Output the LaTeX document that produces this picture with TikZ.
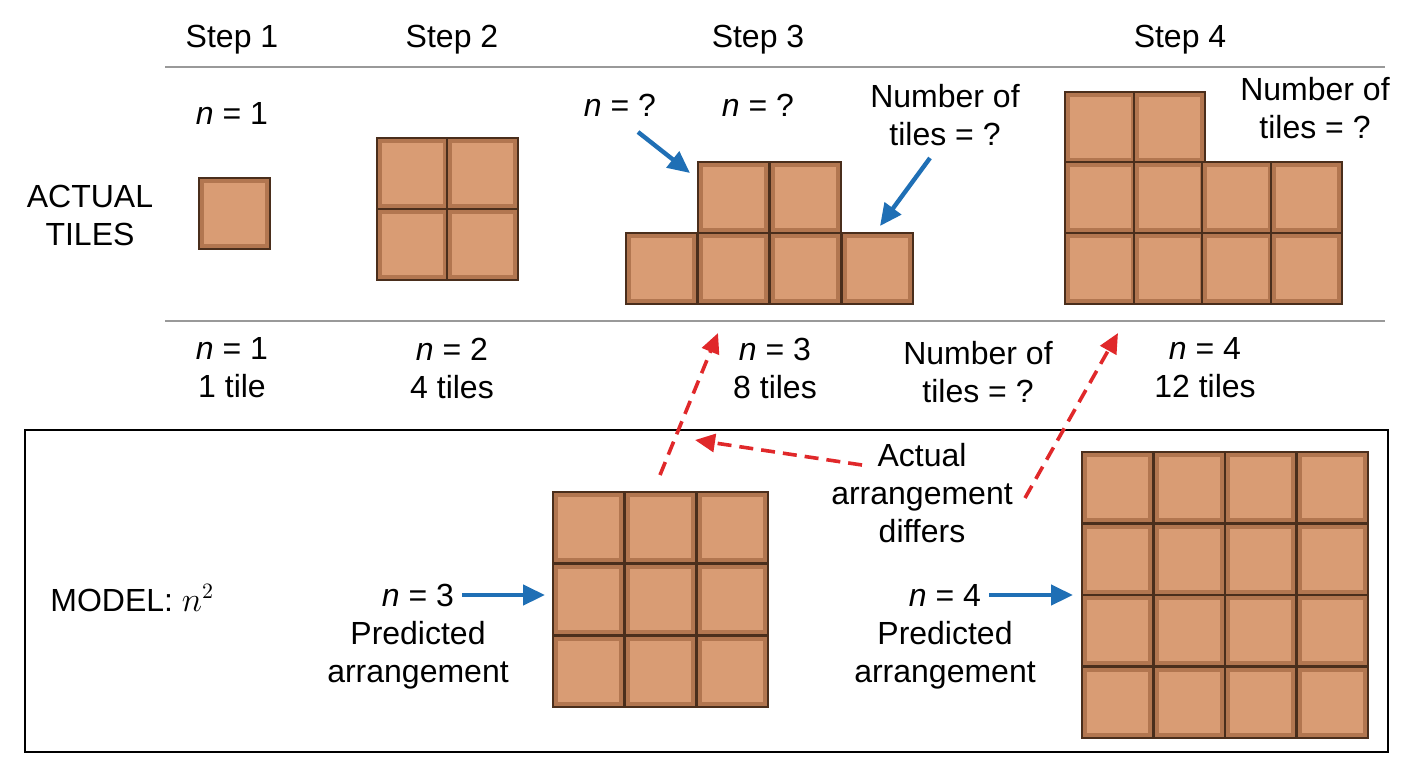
\documentclass[tikz,border=0pt]{standalone}
\usepackage{fontspec}
\setmainfont{Liberation Sans}
\usepackage{amsmath}
\usetikzlibrary{arrows.meta, positioning, calc}

\definecolor{tileedge}{HTML}{4A2E1C}
\definecolor{tiledark}{HTML}{B27650}
\definecolor{tilelight}{HTML}{D99C74}
\definecolor{bluearrow}{HTML}{1F6FB5}
\definecolor{redarrow}{HTML}{E0282A}

% one tile with its top left corner at (#1,#2)
\newcommand{\tile}[2]{%
  \fill[tiledark] (#1,#2) rectangle ++(71,71);
  \fill[tilelight] ($(#1,#2)+(5,5)$) rectangle ++(61,61);
  \draw[tileedge, line width=1pt] (#1,#2) rectangle ++(71,71);
}
\newcommand{\nv}{\textit{n}}

\tikzset{
  lbl/.style={font=\fontsize{16}{19}\selectfont, align=center, inner sep=1pt},
  rule/.style={draw=gray!80, line width=1.2pt},
  bluearr/.style={bluearrow, line width=2.2pt, -{Triangle[length=11pt, width=10pt]}},
  redarr/.style={redarrow, line width=1.8pt, dashed, dash pattern=on 7pt off 4pt, -{Triangle[length=10pt, width=9pt]}}
}

\begin{document}
\begin{tikzpicture}[x=0.5pt, y=-0.5pt]
    \useasboundingbox (0,0) rectangle (1408,768);

    % Header
    \node[lbl] (s1) at (232,40) {Step 1};
    \node[lbl] (s2) at (452,40) {Step 2};
    \node[lbl] (s3) at (758,40) {Step 3};
    \node[lbl] (s4) at (1180,40) {Step 4};
    \draw[rule] (165,67) -- (1385,67);
    \draw[rule] (165,321) -- (1385,321);

    \node[lbl] (actual) at (90,215) {ACTUAL\\TILES};

    % Step 1
    \node[lbl] (n1) at (232,113) {\nv{} = 1};
    \tile{199}{178}

    % Step 2
    \foreach \i in {0,1} {
        \foreach \j in {0,1} {
            \tile{377+70*\i}{138+71*\j}
        }
    }

    % Step 3
    \foreach \i in {1,2} { \tile{626+72*\i}{162} }
    \foreach \i in {0,...,3} { \tile{626+72*\i}{233} }
    \node[lbl] (nq1) at (620,105) {\nv{} = ?};
    \node[lbl] (nq2) at (758,105) {\nv{} = ?};
    \node[lbl] (num3) at (945,115) {Number of\\tiles = ?};
    \coordinate (t3a) at (690,173);
    \coordinate (t3b) at (880,226);
    \draw[bluearr] (638,132) -- (t3a);
    \draw[bluearr] (930,158) -- (t3b);

    % Step 4
    \foreach \i in {0,1} { \tile{1065+69*\i}{92} }
    \foreach \i in {0,...,3} {
        \foreach \j in {0,1} {
            \tile{1065+68.5*\i}{162+71*\j}
        }
    }
    \node[lbl] (num4) at (1315,108) {Number of\\tiles = ?};

    % Counts
    \node[lbl] (c1) at (232,368) {\nv{} = 1\\1 tile};
    \node[lbl] (c2) at (452,368) {\nv{} = 2\\4 tiles};
    \node[lbl] (c3) at (775,368) {\nv{} = 3\\8 tiles};
    \node[lbl] (cq) at (978,372) {Number of\\tiles = ?};
    \node[lbl] (c4) at (1205,368) {\nv{} = 4\\12 tiles};

    % Model box
    \draw[line width=1pt] (25,430) rectangle (1388,752);
    \node[lbl, anchor=west] (model) at (48,598) {MODEL: $n^2$};

    \foreach \i in {0,1,2} {
        \foreach \j in {0,1,2} {
            \tile{553+72*\i}{492+72*\j}
        }
    }
    \foreach \i in {0,...,3} {
        \foreach \j in {0,...,3} {
            \tile{1082+71.5*\i}{452+71.5*\j}
        }
    }

    \node[lbl] (p3) at (418,595) {\nv{} = 3};
    \node[lbl, below=5pt of p3] (pa3) {Predicted\\arrangement};
    \node[lbl] (p4) at (945,595) {\nv{} = 4};
    \node[lbl, below=5pt of p4] (pa4) {Predicted\\arrangement};
    \coordinate (g3) at (545,595);
    \coordinate (g4) at (1073,595);
    \draw[bluearr] (p3.east) ++(6,0) -- (g3);
    \draw[bluearr] (p4.east) ++(6,0) -- (g4);

    % Actual arrangement differs
    \node[lbl] (diff) at (922,493) {Actual\\arrangement\\differs};
    \coordinate (r1) at (718,333);
    \coordinate (r2) at (695,440);
    \coordinate (r3) at (1118,333);
    \draw[redarr] (660,475) -- (r1);
    \draw[redarr] (862,465) -- (r2);
    \draw[redarr] (1025,498) -- (r3);
\end{tikzpicture}
\end{document}
